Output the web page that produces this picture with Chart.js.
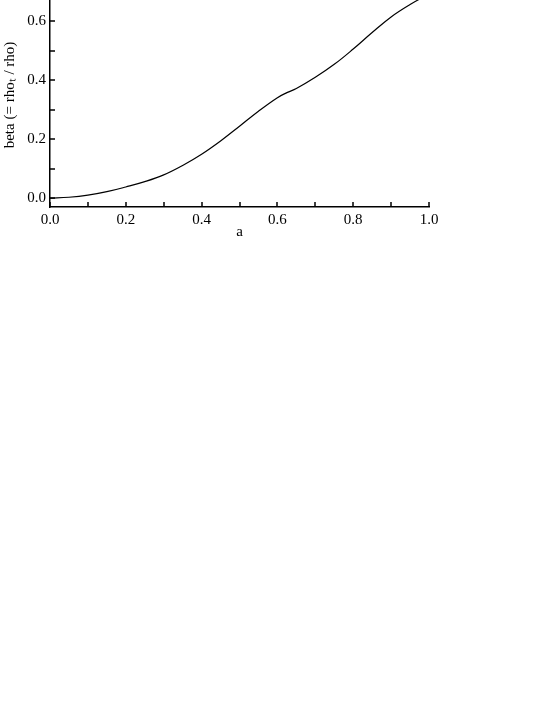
<!DOCTYPE html>
<html>
<head>
<meta charset="utf-8">
<script src="https://cdn.jsdelivr.net/npm/chart.js@4.4.1/dist/chart.umd.min.js"></script>
<style>
  html, body { margin: 0; padding: 0; background: #ffffff; overflow: hidden; }
  body { width: 545px; height: 705px; position: relative; }
  #wrap { position: absolute; left: 0; top: -30px; width: 545px; height: 280px; }
</style>
</head>
<body>
<div id="wrap"><canvas id="c" width="545" height="280"></canvas></div>
<script>
// Data
const aValues    = [0, 0.05, 0.1, 0.15, 0.2, 0.25, 0.3, 0.35, 0.4, 0.45, 0.5, 0.55, 0.6, 0.625, 0.65, 0.7, 0.75, 0.8, 0.85, 0.9, 0.95, 1.0];
const betaValues = [0, 0.003, 0.010, 0.022, 0.038, 0.056, 0.079, 0.111, 0.149, 0.194, 0.244, 0.295, 0.341, 0.358, 0.372, 0.410, 0.454, 0.506, 0.562, 0.615, 0.657, 0.693];
const xTickValues = [0, 0.1, 0.2, 0.3, 0.4, 0.5, 0.6, 0.7, 0.8, 0.9, 1.0];
const yTickValues = [0, 0.1, 0.2, 0.3, 0.4, 0.5, 0.6, 0.7];
const xLabelValues = [0, 0.2, 0.4, 0.6, 0.8, 1.0];
const yLabelValues = [0, 0.2, 0.4, 0.6];
const xTitle = 'a';
const yTitle = 'beta (= rho\u209C / rho)';

const points = aValues.map((a, i) => ({ x: a, y: betaValues[i] }));
const FONT = 'Liberation Serif, Times New Roman, serif';

function isLabel(list, v) { return list.some(t => Math.abs(t - v) < 1e-6); }

const inwardTicks = {
  id: 'inwardTicks',
  afterDraw(chart) {
    const ctx = chart.ctx;
    const xs = chart.scales.x, ys = chart.scales.y;
    const area = chart.chartArea;
    ctx.save();
    ctx.strokeStyle = '#000';
    ctx.lineWidth = 1.5;
    ctx.beginPath();
    xs.ticks.forEach(t => {
      const px = Math.round(xs.getPixelForValue(t.value));
      ctx.moveTo(px, area.bottom);
      ctx.lineTo(px, area.bottom - 5);
    });
    ys.ticks.forEach(t => {
      const py = Math.round(ys.getPixelForValue(t.value));
      ctx.moveTo(area.left, py);
      ctx.lineTo(area.left + 5, py);
    });
    ctx.stroke();
    ctx.restore();
  }
};

new Chart(document.getElementById('c'), {
  type: 'line',
  data: {
    datasets: [{
      data: points,
      borderColor: '#000000',
      borderWidth: 1.2,
      pointRadius: 0,
      fill: false,
      tension: 0.4
    }]
  },
  options: {
    responsive: false,
    animation: false,
    events: [],
    clip: false,
    layout: { padding: { left: 0, right: 116, top: 10, bottom: 3 } },
    plugins: { legend: { display: false }, tooltip: { enabled: false } },
    scales: {
      x: {
        type: 'linear',
        min: 0, max: 1.0,
        afterBuildTicks: s => { s.ticks = xTickValues.map(v => ({ value: v })); },
        afterFit: s => { s.height = 40; },
        grid: { display: false, drawTicks: false },
        border: { display: true, color: '#000', width: 1.5 },
        ticks: {
          color: '#000', padding: 4, maxRotation: 0, autoSkip: false,
          font: { family: FONT, size: 15 },
          callback: v => isLabel(xLabelValues, v) ? v.toFixed(1) : ''
        },
        title: { display: true, text: xTitle, color: '#000', font: { family: FONT, size: 15 }, padding: { top: 0, bottom: 6 } }
      },
      y: {
        type: 'linear',
        min: -0.03, max: 0.73,
        afterBuildTicks: s => { s.ticks = yTickValues.map(v => ({ value: v })); },
        afterFit: s => { s.width = 50; },
        grid: { display: false, drawTicks: false },
        border: { display: true, color: '#000', width: 1.5 },
        ticks: {
          color: '#000', padding: 4, autoSkip: false,
          font: { family: FONT, size: 15 },
          callback: v => isLabel(yLabelValues, v) ? v.toFixed(1) : ''
        },
        title: { display: true, text: yTitle, color: '#000', font: { family: FONT, size: 15 }, padding: { top: 1, bottom: 0 } }
      }
    }
  },
  plugins: [inwardTicks]
});
</script>
</body>
</html>
